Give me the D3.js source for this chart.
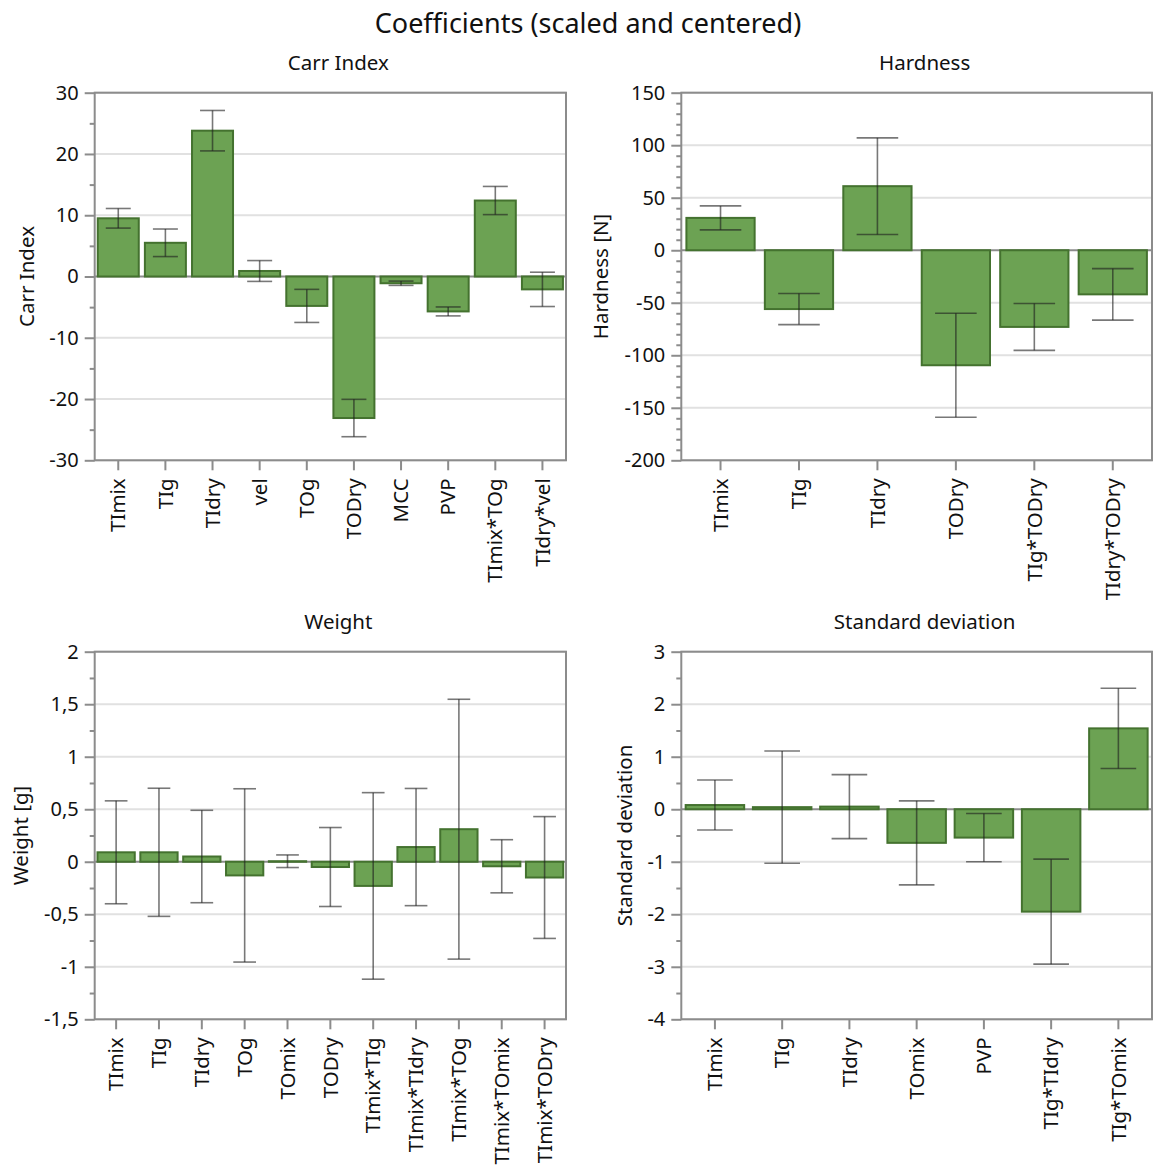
<!DOCTYPE html>
<html>
<head>
<meta charset="utf-8">
<script src="https://cdn.jsdelivr.net/npm/d3@7"></script>
<style>
  html, body { margin: 0; padding: 0; background: #fff; }
  svg text { font-family: "Segoe UI", "Noto Sans", "Open Sans", sans-serif; fill: #111; }
</style>
</head>
<body>
<svg id="chart" width="1153" height="1166"></svg>
<script>
// Carr Index model coefficients with confidence intervals
const carrTerms = ["TImix", "TIg", "TIdry", "vel", "TOg", "TODry", "MCC", "PVP", "TImix*TOg", "TIdry*vel"];
const carrCoef  = [9.5, 5.5, 23.8, 0.9, -4.8, -23.1, -1.1, -5.7, 12.4, -2.1];
const carrCI    = [1.6, 2.25, 3.3, 1.7, 2.7, 3.05, 0.35, 0.73, 2.3, 2.8];
const carrTicks = [-30, -20, -10, 0, 10, 20, 30];

// Hardness model coefficients
const hardTerms = ["TImix", "TIg", "TIdry", "TODry", "TIg*TODry", "TIdry*TODry"];
const hardCoef  = [30.8, -56, 61, -109.5, -73, -42];
const hardCI    = [11.4, 14.8, 46, 49.5, 22.3, 24.5];
const hardTicks = [-200, -150, -100, -50, 0, 50, 100, 150];

// Weight model coefficients
const weightTerms = ["TImix", "TIg", "TIdry", "TOg", "TOmix", "TODry", "TImix*TIg", "TImix*TIdry", "TImix*TOg", "TImix*TOmix", "TImix*TODry"];
const weightCoef  = [0.09, 0.09, 0.05, -0.13, 0.005, -0.05, -0.23, 0.14, 0.31, -0.043, -0.15];
const weightCI    = [0.49, 0.61, 0.44, 0.825, 0.06, 0.376, 0.888, 0.558, 1.237, 0.253, 0.58];
const weightTicks = [-1.5, -1, -0.5, 0, 0.5, 1, 1.5, 2];

// Standard deviation model coefficients
const sdTerms = ["TImix", "TIg", "TIdry", "TOmix", "PVP", "TIg*TIdry", "TIg*TOmix"];
const sdCoef  = [0.08, 0.04, 0.05, -0.64, -0.54, -1.95, 1.54];
const sdCI    = [0.476, 1.068, 0.61, 0.8, 0.46, 1.0, 0.765];
const sdTicks = [-4, -3, -2, -1, 0, 1, 2, 3];

const svg = d3.select("#chart");

// Decimal comma, plain hyphen minus
const locale = d3.formatLocale({ decimal: ",", thousands: ".", grouping: [3], currency: ["", ""], minus: "-" });
const fmt = locale.format("~g");

const FILL = "#6ca253", EDGE = "#44722f", FRAME = "#8c8c8c", GRID = "#e1e1e1";

svg.append("text")
  .attr("x", 588).attr("y", 22)
  .attr("text-anchor", "middle").attr("dominant-baseline", "central")
  .style("font-size", "27px")
  .text("Coefficients (scaled and centered)");

function panel(cfg) {
  const { terms, coef, ci, ticks, minorStep, box, title, yLabel, yLabelX } = cfg;
  const g = svg.append("g");

  const x = d3.scaleBand().domain(terms).range([box.left, box.right]).paddingInner(0.13).paddingOuter(0.065);
  const y = d3.scaleLinear().domain([ticks[0], ticks[ticks.length - 1]]).range([box.bottom, box.top]);

  // major grid lines
  g.append("g").selectAll("line").data(ticks.filter(t => t !== 0)).join("line")
    .attr("x1", box.left).attr("x2", box.right)
    .attr("y1", d => y(d)).attr("y2", d => y(d))
    .attr("stroke", GRID).attr("stroke-width", 2);

  // zero line
  g.append("line")
    .attr("x1", box.left).attr("x2", box.right)
    .attr("y1", y(0)).attr("y2", y(0))
    .attr("stroke", FRAME).attr("stroke-width", 2);

  const rows = terms.map((t, i) => ({ term: t, v: coef[i], c: ci[i] }));

  // coefficient bars
  g.append("g").selectAll("rect").data(rows).join("rect")
    .attr("x", d => x(d.term))
    .attr("width", x.bandwidth())
    .attr("y", d => y(Math.max(0, d.v)))
    .attr("height", d => Math.abs(y(d.v) - y(0)))
    .attr("fill", FILL).attr("stroke", EDGE).attr("stroke-width", 2);

  // confidence interval whiskers
  const capW = x.step() * 0.53;
  const eb = g.append("g").attr("stroke", "#1e1e1e").attr("stroke-opacity", 0.6).attr("stroke-width", 1.6);
  eb.selectAll("line.v").data(rows).join("line").attr("class", "v")
    .attr("x1", d => x(d.term) + x.bandwidth() / 2).attr("x2", d => x(d.term) + x.bandwidth() / 2)
    .attr("y1", d => y(d.v + d.c)).attr("y2", d => y(d.v - d.c));
  eb.selectAll("line.t").data(rows).join("line").attr("class", "t")
    .attr("x1", d => x(d.term) + x.bandwidth() / 2 - capW / 2).attr("x2", d => x(d.term) + x.bandwidth() / 2 + capW / 2)
    .attr("y1", d => y(d.v + d.c)).attr("y2", d => y(d.v + d.c));
  eb.selectAll("line.b").data(rows).join("line").attr("class", "b")
    .attr("x1", d => x(d.term) + x.bandwidth() / 2 - capW / 2).attr("x2", d => x(d.term) + x.bandwidth() / 2 + capW / 2)
    .attr("y1", d => y(d.v - d.c)).attr("y2", d => y(d.v - d.c));

  // frame
  g.append("rect")
    .attr("x", box.left).attr("y", box.top)
    .attr("width", box.right - box.left).attr("height", box.bottom - box.top)
    .attr("fill", "none").attr("stroke", FRAME).attr("stroke-width", 2);

  // y axis: major + minor ticks
  const minor = d3.range(ticks[0], ticks[ticks.length - 1] + minorStep / 2, minorStep)
    .filter(v => !ticks.some(t => Math.abs(t - v) < 1e-9));
  const yAxis = d3.axisLeft(y).tickValues(ticks).tickSize(10).tickPadding(6).tickFormat(fmt);
  const ya = g.append("g").attr("transform", `translate(${box.left},0)`).call(yAxis);
  ya.select(".domain").remove();
  ya.selectAll(".tick line").attr("stroke", FRAME).attr("stroke-width", 2);
  ya.selectAll(".tick text").style("font-size", "20px").attr("fill", "#111");
  const yMinor = d3.axisLeft(y).tickValues(minor).tickSize(5).tickFormat("");
  const ym = g.append("g").attr("transform", `translate(${box.left},0)`).call(yMinor);
  ym.select(".domain").remove();
  ym.selectAll(".tick line").attr("stroke", FRAME).attr("stroke-width", 2);

  // x axis with rotated term labels
  const xAxis = d3.axisBottom(x).tickSize(10).tickPadding(0);
  const xa = g.append("g").attr("transform", `translate(0,${box.bottom})`).call(xAxis);
  xa.select(".domain").remove();
  xa.selectAll(".tick line").attr("stroke", FRAME).attr("stroke-width", 2);
  xa.selectAll(".tick text")
    .style("font-size", "20.5px").attr("fill", "#111")
    .attr("text-anchor", "end")
    .attr("transform", "translate(0,18) rotate(-90)")
    .attr("x", 0).attr("y", 0).attr("dy", "0.35em");

  // panel title
  svg.append("text")
    .attr("x", (box.left + box.right) / 2 + 8).attr("y", box.top - 31)
    .attr("text-anchor", "middle").attr("dominant-baseline", "central")
    .style("font-size", "20.5px").text(title);

  // y axis title
  svg.append("text")
    .attr("transform", `translate(${yLabelX},${(box.top + box.bottom) / 2}) rotate(-90)`)
    .attr("text-anchor", "middle").attr("dominant-baseline", "central")
    .style("font-size", "20.5px").text(yLabel);
}

panel({ terms: carrTerms, coef: carrCoef, ci: carrCI, ticks: carrTicks, minorStep: 5,
  box: { left: 94.7, right: 566, top: 92.7, bottom: 460.3 }, title: "Carr Index", yLabel: "Carr Index", yLabelX: 26 });
panel({ terms: hardTerms, coef: hardCoef, ci: hardCI, ticks: hardTicks, minorStep: 10,
  box: { left: 681.3, right: 1152, top: 92.7, bottom: 460.3 }, title: "Hardness", yLabel: "Hardness [N]", yLabelX: 600 });
panel({ terms: weightTerms, coef: weightCoef, ci: weightCI, ticks: weightTicks, minorStep: 0.25,
  box: { left: 94.7, right: 566, top: 651.7, bottom: 1019.3 }, title: "Weight", yLabel: "Weight [g]", yLabelX: 20 });
panel({ terms: sdTerms, coef: sdCoef, ci: sdCI, ticks: sdTicks, minorStep: 0.5,
  box: { left: 681.3, right: 1152, top: 651.7, bottom: 1019.3 }, title: "Standard deviation", yLabel: "Standard deviation", yLabelX: 624 });
</script>
</body>
</html>
